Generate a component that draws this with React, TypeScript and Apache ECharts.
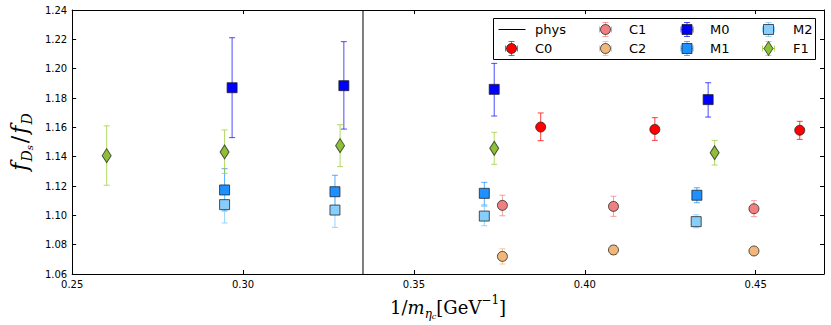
import React, { useEffect, useRef } from "react";
import * as echarts from "echarts";

// x-axis / y-axis ranges and ticks
const xMin = 0.25, xMax = 0.47, xStep = 0.05;
const yMin = 1.06, yMax = 1.24, yStep = 0.02;
const physX = 0.3351;

// each point: [1/m_etac, fDs/fD, lower error, upper error]
const C0 = [[0.3871, 1.1602, 1.1509, 1.1698], [0.4205, 1.1586, 1.1511, 1.1666], [0.4629, 1.158, 1.1518, 1.1641]];
const C1 = [[0.3759, 1.1068, 1.0997, 1.1137], [0.4084, 1.1061, 1.0993, 1.113], [0.4495, 1.1045, 1.0991, 1.11]];
const C2 = [[0.3759, 1.072, 1.0668, 1.0772], [0.4084, 1.0764, 1.0734, 1.0794], [0.4495, 1.0757, 1.073, 1.0784]];
const M0 = [[0.2968, 1.187, 1.153, 1.2211], [0.3295, 1.1884, 1.1588, 1.2184], [0.3735, 1.1859, 1.1677, 1.2036], [0.4361, 1.1789, 1.167, 1.1904]];
const M1 = [[0.2946, 1.1173, 1.103, 1.1318], [0.3269, 1.1161, 1.105, 1.1273], [0.3706, 1.115, 1.107, 1.1225], [0.4328, 1.1137, 1.1086, 1.1188]];
const M2 = [[0.2946, 1.1073, 1.0948, 1.1198], [0.3269, 1.1036, 1.0918, 1.1154], [0.3706, 1.0995, 1.0929, 1.1061], [0.4326, 1.0957, 1.0915, 1.1004]];
const F1 = [[0.2601, 1.1407, 1.1205, 1.161], [0.2946, 1.1432, 1.1286, 1.1582], [0.3284, 1.1475, 1.1332, 1.1618], [0.3735, 1.1457, 1.1348, 1.1566], [0.438, 1.1427, 1.1343, 1.1511]];

const ensembles = [
  { name: "C0", data: C0, color: "#ff0000", err: "rgba(255,0,0,0.75)", symbol: "circle" },
  { name: "C1", data: C1, color: "#f08080", err: "rgba(240,128,128,0.75)", symbol: "circle" },
  { name: "C2", data: C2, color: "#f0b67a", err: "rgba(240,182,122,0.75)", symbol: "circle" },
  { name: "M0", data: M0, color: "#0000ff", err: "rgba(0,0,255,0.7)", symbol: "rect" },
  { name: "M1", data: M1, color: "#1e90ff", err: "rgba(30,144,255,0.75)", symbol: "rect" },
  { name: "M2", data: M2, color: "#87cefa", err: "rgba(135,206,250,0.85)", symbol: "rect" },
  { name: "F1", data: F1, color: "#8cc036", err: "rgba(154,205,50,0.75)", symbol: "diamond" },
];

// legend layout: columns of [name, name]
const legendCols = [["phys", "C0"], ["C1", "C2"], ["M0", "M1"], ["M2", "F1"]];

const EDGE = "rgba(30,30,30,0.75)";
const FONT = "DejaVu Sans";
const SERIF = "DejaVu Serif";

function symbolSize(s: string): any {
  if (s === "circle") return 10;
  if (s === "rect") return 10;
  return [9, 14];
}

function markerGraphic(sym: string, cx: number, cy: number, color: string) {
  const style = { fill: color, stroke: EDGE, lineWidth: 1 };
  if (sym === "circle") return { type: "circle", shape: { cx, cy, r: 5 }, style };
  if (sym === "rect") return { type: "rect", shape: { x: cx - 5, y: cy - 5, width: 10, height: 10 }, style };
  return { type: "polygon", shape: { points: [[cx, cy - 7], [cx + 4.5, cy], [cx, cy + 7], [cx - 4.5, cy]] }, style };
}

function buildLegend() {
  const children: any[] = [];
  children.push({
    type: "rect",
    shape: { x: 493.5, y: 18.5, width: 322, height: 41 },
    style: { fill: "#fff", stroke: "#000", lineWidth: 1 },
  });
  const colIcon = [511.5, 605.5, 687, 768.5];
  const colText = [535, 629, 710, 793];
  const rowY = [29.5, 48.5];
  legendCols.forEach((col, ci) => {
    col.forEach((name, ri) => {
      const cx = colIcon[ci];
      const cy = rowY[ri];
      if (name === "phys") {
        children.push({ type: "line", shape: { x1: cx - 13, y1: cy, x2: cx + 14, y2: cy }, style: { stroke: "#000", lineWidth: 1 } });
      } else {
        const e = ensembles.find((d) => d.name === name)!;
        const st = { stroke: e.err, lineWidth: 1 };
        children.push({ type: "line", shape: { x1: cx, y1: cy - 7, x2: cx, y2: cy + 7 }, style: st });
        children.push({ type: "line", shape: { x1: cx - 3, y1: cy - 7, x2: cx + 3, y2: cy - 7 }, style: st });
        children.push({ type: "line", shape: { x1: cx - 3, y1: cy + 7, x2: cx + 3, y2: cy + 7 }, style: st });
        children.push({ type: "line", shape: { x1: cx - 6, y1: cy, x2: cx + 6, y2: cy }, style: st });
        children.push({ type: "line", shape: { x1: cx - 6, y1: cy - 3, x2: cx - 6, y2: cy + 3 }, style: st });
        children.push({ type: "line", shape: { x1: cx + 6, y1: cy - 3, x2: cx + 6, y2: cy + 3 }, style: st });
        children.push(markerGraphic(e.symbol, cx, cy, e.color));
      }
      children.push({
        type: "text",
        x: colText[ci],
        y: cy,
        style: { text: name, fontFamily: FONT, fontSize: 13, fill: "#000", verticalAlign: "middle", align: "left" },
      });
    });
  });
  return [{ type: "group", z: 100, children }];
}

function errorSeries(e: any) {
  return {
    type: "custom",
    name: e.name + " err",
    data: e.data,
    encode: { x: 0, y: 1 },
    z: 2,
    silent: true,
    renderItem: (params: any, api: any) => {
      const x = api.value(0);
      const lo = api.coord([x, api.value(2)]);
      const hi = api.coord([x, api.value(3)]);
      const st = { stroke: e.err, lineWidth: 1 };
      const w = 3;
      return {
        type: "group",
        children: [
          { type: "line", shape: { x1: lo[0], y1: lo[1], x2: hi[0], y2: hi[1] }, style: st },
          { type: "line", shape: { x1: lo[0] - w, y1: lo[1], x2: lo[0] + w, y2: lo[1] }, style: st },
          { type: "line", shape: { x1: hi[0] - w, y1: hi[1], x2: hi[0] + w, y2: hi[1] }, style: st },
        ],
      };
    },
  };
}

export default function App() {
  const ref = useRef<HTMLDivElement>(null);
  useEffect(() => {
    if (!ref.current) return;
    const chart = echarts.init(ref.current, null, { renderer: "svg" });
    const tickFmt = (v: number) => {
      const k = v / xStep;
      return Math.abs(k - Math.round(k)) < 1e-6 ? v.toFixed(2) : "";
    };
    const baseX = {
      type: "value",
      min: xMin,
      max: xMax,
      interval: xStep,
      splitLine: { show: false },
      axisLine: { show: true, onZero: false, lineStyle: { color: "#000", width: 1 } },
      axisTick: { show: true, inside: true, length: 4, lineStyle: { color: "#000" } },
    };
    const baseY = {
      type: "value",
      min: yMin,
      max: yMax,
      interval: yStep,
      splitLine: { show: false },
      axisLine: { show: true, onZero: false, lineStyle: { color: "#000", width: 1 } },
      axisTick: { show: true, inside: true, length: 4, lineStyle: { color: "#000" } },
    };
    const option: any = {
      animation: false,
      backgroundColor: "#fff",
      grid: { left: 61, right: 7, top: 10, bottom: 51, containLabel: false },
      xAxis: [
        {
          ...baseX,
          position: "bottom",
          axisLabel: { formatter: tickFmt, showMaxLabel: false, fontFamily: FONT, fontSize: 10, color: "#000", margin: 5 },
          name: "{n|1/}{i|m}{s|η}{ss|c}{n|[GeV}{sup|−1}{n|]}",
          nameLocation: "middle",
          nameGap: 20,
          nameTextStyle: {
            rich: {
              n: { fontFamily: SERIF, fontSize: 18, color: "#000", lineHeight: 26, verticalAlign: "middle" },
              i: { fontFamily: SERIF, fontStyle: "italic", fontSize: 18, color: "#000", lineHeight: 26, verticalAlign: "middle" },
              s: { fontFamily: SERIF, fontStyle: "italic", fontSize: 12, color: "#000", lineHeight: 14, verticalAlign: "bottom" },
              ss: { fontFamily: SERIF, fontStyle: "italic", fontSize: 8, color: "#000", lineHeight: 8, verticalAlign: "bottom" },
              sup: { fontFamily: SERIF, fontSize: 12, color: "#000", lineHeight: 14, verticalAlign: "top" },
            },
          },
        },
        { ...baseX, position: "top", axisLabel: { show: false } },
      ],
      yAxis: [
        {
          ...baseY,
          position: "left",
          axisLabel: { formatter: (v: number) => v.toFixed(2), fontFamily: FONT, fontSize: 10, color: "#000", margin: 5 },
          name: "{i|f}{s|D}{ss|s}{n|/}{i|f}{s|D}",
          nameLocation: "middle",
          nameGap: 37,
          nameRotate: 90,
          nameTextStyle: {
            rich: {
              n: { fontFamily: SERIF, fontSize: 22, color: "#000", lineHeight: 30, verticalAlign: "middle", padding: [0, 2, 0, 2] },
              i: { fontFamily: SERIF, fontStyle: "italic", fontSize: 22, color: "#000", lineHeight: 30, verticalAlign: "middle" },
              s: { fontFamily: SERIF, fontStyle: "italic", fontSize: 14, color: "#000", lineHeight: 16, verticalAlign: "bottom", padding: [0, 0, 0, 1] },
              ss: { fontFamily: SERIF, fontStyle: "italic", fontSize: 10, color: "#000", lineHeight: 10, verticalAlign: "bottom" },
            },
          },
        },
        { ...baseY, position: "right", axisLabel: { show: false } },
      ],
      series: [
        {
          type: "line",
          name: "phys",
          data: [[physX, yMin], [physX, yMax]],
          symbol: "none",
          lineStyle: { color: "#000", width: 1 },
          z: 1,
          silent: true,
        },
        ...ensembles.map((e) => errorSeries(e)),
        ...ensembles.map((e) => ({
          type: "scatter",
          name: e.name,
          data: e.data.map((d) => [d[0], d[1]]),
          symbol: e.symbol,
          symbolSize: symbolSize(e.symbol),
          itemStyle: { color: e.color, borderColor: EDGE, borderWidth: 1, opacity: 1 },
          z: 3,
          silent: true,
        })),
      ],
      graphic: buildLegend(),
    };
    chart.setOption(option);
    return () => chart.dispose();
  }, []);
  return <div ref={ref} style={{ position: "absolute", left: 0, top: 0, width: 831, height: 325 }} />;
}
